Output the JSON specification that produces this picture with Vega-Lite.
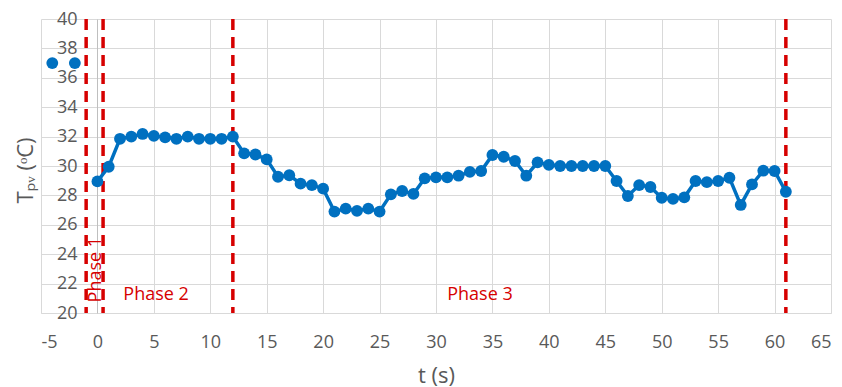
{
  "$schema": "https://vega.github.io/schema/vega-lite/v6.json",
  "autosize": {"type": "none"},
  "padding": {"left": 41, "top": 19, "right": 11, "bottom": 74},
  "width": 790,
  "height": 294,
  "background": "white",
  "config": {
    "view": {"stroke": null},
    "font": "Open Sans",
    "axis": {
      "gridColor": "#d9d9d9",
      "gridWidth": 1,
      "labelColor": "#595959",
      "titleColor": "#595959",
      "labelFont": "Open Sans",
      "titleFont": "Open Sans",
      "labelFontSize": 18,
      "titleFontSize": 22,
      "titleFontWeight": "normal",
      "labelOverlap": false,
      "ticks": false
    }
  },
  "datasets": {
    "temps": [
      {"t": -4, "T": 37, "s": "extra"},
      {"t": -2, "T": 37, "s": "extra"},
      {"t": 0, "T": 28.95, "s": "main"},
      {"t": 1, "T": 29.95, "s": "main"},
      {"t": 2, "T": 31.85, "s": "main"},
      {"t": 3, "T": 32.0, "s": "main"},
      {"t": 4, "T": 32.18, "s": "main"},
      {"t": 5, "T": 32.05, "s": "main"},
      {"t": 6, "T": 31.95, "s": "main"},
      {"t": 7, "T": 31.85, "s": "main"},
      {"t": 8, "T": 32.0, "s": "main"},
      {"t": 9, "T": 31.85, "s": "main"},
      {"t": 10, "T": 31.85, "s": "main"},
      {"t": 11, "T": 31.85, "s": "main"},
      {"t": 12, "T": 32.0, "s": "main"},
      {"t": 13, "T": 30.86, "s": "main"},
      {"t": 14, "T": 30.78, "s": "main"},
      {"t": 15, "T": 30.45, "s": "main"},
      {"t": 16, "T": 29.27, "s": "main"},
      {"t": 17, "T": 29.37, "s": "main"},
      {"t": 18, "T": 28.8, "s": "main"},
      {"t": 19, "T": 28.7, "s": "main"},
      {"t": 20, "T": 28.46, "s": "main"},
      {"t": 21, "T": 26.9, "s": "main"},
      {"t": 22, "T": 27.1, "s": "main"},
      {"t": 23, "T": 26.95, "s": "main"},
      {"t": 24, "T": 27.1, "s": "main"},
      {"t": 25, "T": 26.9, "s": "main"},
      {"t": 26, "T": 28.07, "s": "main"},
      {"t": 27, "T": 28.3, "s": "main"},
      {"t": 28, "T": 28.1, "s": "main"},
      {"t": 29, "T": 29.16, "s": "main"},
      {"t": 30, "T": 29.23, "s": "main"},
      {"t": 31, "T": 29.23, "s": "main"},
      {"t": 32, "T": 29.34, "s": "main"},
      {"t": 33, "T": 29.6, "s": "main"},
      {"t": 34, "T": 29.66, "s": "main"},
      {"t": 35, "T": 30.75, "s": "main"},
      {"t": 36, "T": 30.63, "s": "main"},
      {"t": 37, "T": 30.34, "s": "main"},
      {"t": 38, "T": 29.34, "s": "main"},
      {"t": 39, "T": 30.25, "s": "main"},
      {"t": 40, "T": 30.08, "s": "main"},
      {"t": 41, "T": 30.0, "s": "main"},
      {"t": 42, "T": 30.0, "s": "main"},
      {"t": 43, "T": 30.0, "s": "main"},
      {"t": 44, "T": 30.0, "s": "main"},
      {"t": 45, "T": 30.0, "s": "main"},
      {"t": 46, "T": 28.98, "s": "main"},
      {"t": 47, "T": 27.96, "s": "main"},
      {"t": 48, "T": 28.7, "s": "main"},
      {"t": 49, "T": 28.57, "s": "main"},
      {"t": 50, "T": 27.84, "s": "main"},
      {"t": 51, "T": 27.76, "s": "main"},
      {"t": 52, "T": 27.87, "s": "main"},
      {"t": 53, "T": 28.98, "s": "main"},
      {"t": 54, "T": 28.9, "s": "main"},
      {"t": 55, "T": 28.98, "s": "main"},
      {"t": 56, "T": 29.2, "s": "main"},
      {"t": 57, "T": 27.35, "s": "main"},
      {"t": 58, "T": 28.75, "s": "main"},
      {"t": 59, "T": 29.68, "s": "main"},
      {"t": 60, "T": 29.66, "s": "main"},
      {"t": 61, "T": 28.25, "s": "main"}
    ],
    "bounds": [{"t": -1}, {"t": 0.5}, {"t": 12}, {"t": 61}],
    "phase1": [{"label": "Phase 1", "t": -0.1, "T": 22.95}],
    "phases": [
      {"label": "Phase 2", "t": 5.2, "T": 21.2},
      {"label": "Phase 3", "t": 33.9, "T": 21.2}
    ]
  },
  "layer": [
    {
      "data": {"name": "temps"},
      "mark": {"type": "point", "opacity": 0},
      "encoding": {
        "x": {
          "field": "t", "type": "quantitative",
          "scale": {"domain": [-5, 65], "nice": false},
          "axis": {
            "values": [-5, 0, 5, 10, 15, 20, 25, 30, 35, 40, 45, 50, 55, 60, 65],
            "labelExpr": "'' + datum.value",
            "title": "t (s)",
            "domainColor": "#d9d9d9",
            "labelPadding": 20,
            "titleX": 395,
            "titleY": 62,
            "titleBaseline": "middle"
          }
        },
        "y": {
          "field": "T", "type": "quantitative",
          "scale": {"domain": [20, 40], "nice": false},
          "axis": {
            "values": [20, 22, 24, 26, 28, 30, 32, 34, 36, 38, 40],
            "tickCount": 11,
            "title": "Tₚᵥ (ᵒC)",
            "offset": -56,
            "domainColor": "#bfbfbf",
            "labelPadding": 20,
            "titleX": -72,
            "titleY": 151,
            "titleAngle": -90,
            "titleAlign": "center",
            "titleBaseline": "middle"
          }
        }
      }
    },
    {
      "data": {"name": "bounds"},
      "mark": {"type": "rule", "color": "#d60000", "strokeWidth": 3.5, "strokeDash": [11, 7]},
      "encoding": {"x": {"field": "t", "type": "quantitative"}}
    },
    {
      "data": {"name": "temps"},
      "transform": [{"filter": "datum.s === 'main'"}],
      "mark": {"type": "line", "color": "#0070c0", "strokeWidth": 3.5},
      "encoding": {
        "x": {"field": "t", "type": "quantitative"},
        "y": {"field": "T", "type": "quantitative"}
      }
    },
    {
      "data": {"name": "temps"},
      "mark": {"type": "circle", "color": "#0070c0", "opacity": 1, "size": 140},
      "encoding": {
        "x": {"field": "t", "type": "quantitative"},
        "y": {"field": "T", "type": "quantitative"}
      }
    },
    {
      "data": {"name": "phase1"},
      "mark": {"type": "text", "color": "#d60000", "fontSize": 18, "font": "Open Sans", "angle": 270, "align": "center", "baseline": "middle"},
      "encoding": {
        "x": {"field": "t", "type": "quantitative"},
        "y": {"field": "T", "type": "quantitative"},
        "text": {"field": "label"}
      }
    },
    {
      "data": {"name": "phases"},
      "mark": {"type": "text", "color": "#d60000", "fontSize": 18, "font": "Open Sans", "align": "center", "baseline": "middle"},
      "encoding": {
        "x": {"field": "t", "type": "quantitative"},
        "y": {"field": "T", "type": "quantitative"},
        "text": {"field": "label"}
      }
    }
  ]
}
